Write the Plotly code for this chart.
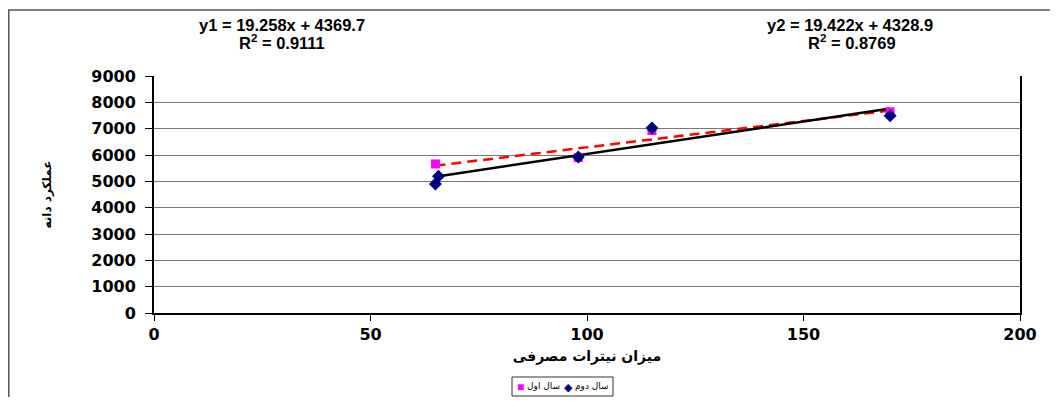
import numpy as np
import plotly.graph_objects as go

# ---- data ----
series1_name = "سال اول"
series1_x = [65, 98, 115, 170]
series1_y = [5660, 5900, 6930, 7640]

series2_name = "سال دوم"
series2_x = [65, 65.7, 98, 115, 170]
series2_y = [4900, 5190, 5920, 7025, 7494]

eq1_text = ["y1 = 19.258x + 4369.7", "R<sup>2</sup> = 0.9111"]
eq2_text = ["y2 = 19.422x + 4328.9", "R<sup>2</sup> = 0.8769"]

x_title = "میزان نیترات مصرفی"
y_title = "عملکرد دانه"
x_ticks = [0, 50, 100, 150, 200]
y_ticks = [0, 1000, 2000, 3000, 4000, 5000, 6000, 7000, 8000, 9000]

# page body has an 8px margin: work in screen pixels and shift
OFF = 8
W, H = 1042, 389
L, T = 154 - OFF, 76 - OFF
PW, PH = 866, 237
R = W - L - PW
B = H - T - PH


def px(x):
    return (x - OFF - L) / PW


def py(y):
    return (T + PH - (y - OFF)) / PH


def trend(xs, ys):
    k, b = np.polyfit(xs, ys, 1)
    xx = np.array([min(xs), max(xs)], dtype=float)
    return xx, k * xx + b


fig = go.Figure()

t1x, t1y = trend(series1_x, series1_y)
t2x, t2y = trend(series2_x, series2_y)

fig.add_trace(go.Scatter(x=t1x, y=t1y, mode="lines", showlegend=False,
                         line=dict(color="#FF0000", width=2.5, dash="10px,6px")))
fig.add_trace(go.Scatter(x=t2x, y=t2y, mode="lines", showlegend=False,
                         line=dict(color="#000000", width=2.5)))
fig.add_trace(go.Scatter(x=series1_x, y=series1_y, mode="markers", name=series1_name,
                         showlegend=False,
                         marker=dict(symbol="square", size=9, color="#FF00FF")))
fig.add_trace(go.Scatter(x=series2_x, y=series2_y, mode="markers", name=series2_name,
                         showlegend=False,
                         marker=dict(symbol="diamond", size=10, color="#000080")))

bold = dict(family="Liberation Sans, Arial", size=16.5, color="black", weight="bold")
ann = []
ann.append(dict(text=eq1_text[0], x=px(282), y=py(25)))
ann.append(dict(text=eq1_text[1], x=px(282), y=py(42)))
ann.append(dict(text=eq2_text[0], x=px(850), y=py(25)))
ann.append(dict(text=eq2_text[1], x=px(852), y=py(42)))
for a in ann:
    a.update(xref="paper", yref="paper", showarrow=False, font=bold,
             xanchor="center", yanchor="middle")

# legend (Excel style, compact)
leg_font = dict(family="DejaVu Sans", size=9, color="black")
leg = [
    dict(text="■", x=px(520), y=py(386), font=dict(size=12, color="#FF00FF")),
    dict(text=series1_name, x=px(543), y=py(386), font=leg_font),
    dict(text="◆", x=px(568), y=py(386), font=dict(size=11, color="#000080")),
    dict(text=series2_name, x=px(592), y=py(386), font=leg_font),
]
for a in leg:
    a.update(xref="paper", yref="paper", showarrow=False,
             xanchor="center", yanchor="middle")
ann += leg

shapes = [
    dict(type="rect", xref="paper", yref="paper",
         x0=px(512), x1=px(613), y0=py(396), y1=py(377),
         line=dict(color="#333333", width=1), fillcolor="rgba(0,0,0,0)"),
    dict(type="rect", xref="paper", yref="paper",
         x0=px(8.8), x1=px(1070), y0=py(420), y1=py(10),
         line=dict(color="#555555", width=1.5), fillcolor="rgba(0,0,0,0)"),
]

tick_font = dict(family="DejaVu Sans", size=16, color="black", weight="bold")

fig.update_layout(
    width=W, height=H,
    margin=dict(l=L, r=R, t=T, b=B),
    paper_bgcolor="white", plot_bgcolor="white",
    annotations=ann, shapes=shapes,
    showlegend=False,
    xaxis=dict(range=[0, 200], tickvals=x_ticks, showgrid=False, zeroline=False,
               showline=True, linecolor="black", linewidth=2,
               ticks="outside", ticklen=6, tickcolor="black", tickwidth=1,
               tickfont=tick_font,
               title=dict(text=x_title, standoff=8,
                          font=dict(family="DejaVu Sans", size=14, color="black", weight="bold"))),
    yaxis=dict(range=[0, 9000], tickvals=y_ticks, showgrid=True, gridcolor="#777777",
               gridwidth=1, zeroline=False,
               showline=True, linecolor="black", linewidth=2, mirror=True,
               ticks="outside", ticklen=7, tickcolor="black", tickwidth=1,
               ticklabelstandoff=6,
               tickfont=tick_font,
               title=dict(text=y_title, standoff=37,
                          font=dict(family="DejaVu Sans", size=12, color="black", weight="bold"))),
)

fig.write_html("out.html")
